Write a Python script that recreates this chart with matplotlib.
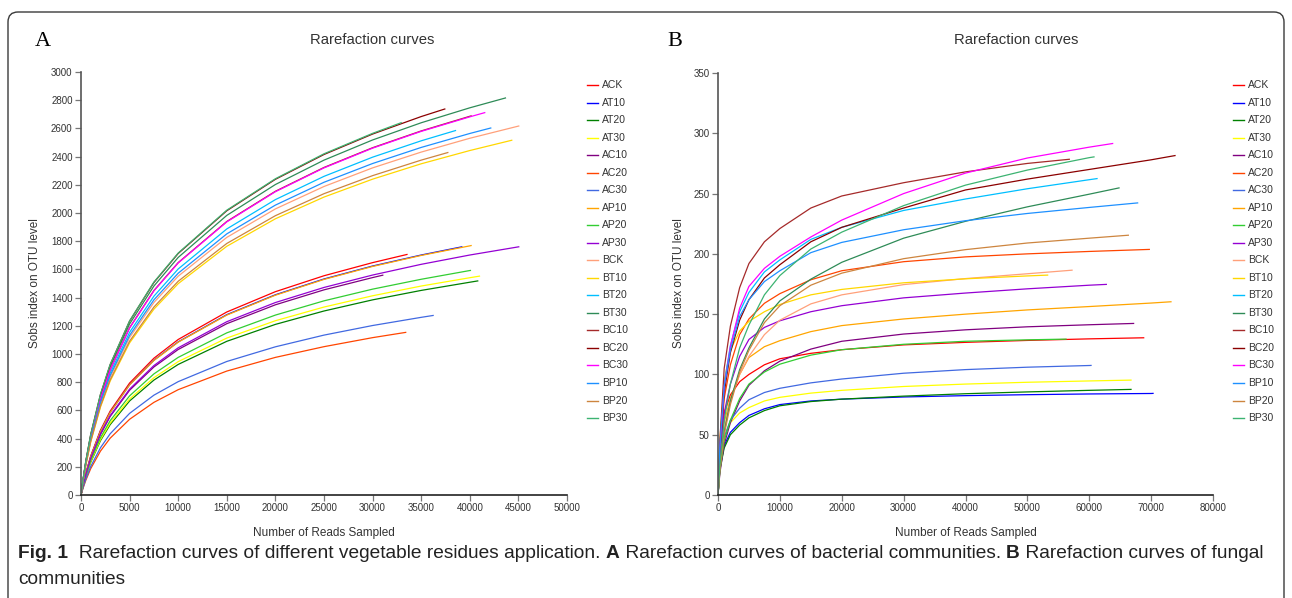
import matplotlib
matplotlib.use('Agg')
import matplotlib.pyplot as plt
from matplotlib.lines import Line2D
from matplotlib.patches import FancyBboxPatch

plt.rcParams['font.family'] = ['Liberation Sans', 'DejaVu Sans']

# samples and colours (same for both panels)
samples = ['ACK', 'AT10', 'AT20', 'AT30', 'AC10', 'AC20', 'AC30', 'AP10', 'AP20', 'AP30',
           'BCK', 'BT10', 'BT20', 'BT30', 'BC10', 'BC20', 'BC30', 'BP10', 'BP20', 'BP30']
colours = ['red', 'blue', 'green', 'yellow', 'purple', 'orangered', 'royalblue', 'orange',
           'limegreen', 'darkviolet', 'lightsalmon', 'gold', 'deepskyblue', 'seagreen',
           'brown', 'darkred', 'magenta', 'dodgerblue', 'peru', 'mediumseagreen']

# ---- A: bacteria ----
bact_reads = [0, 200, 500, 1000, 2000, 3000, 5000, 7500, 10000, 15000, 20000, 25000, 30000, 35000, 40000]
bact_max_reads = [33600, 39240, 40880, 41060, 31110, 33470, 36290, 40200, 40130, 45100,
                  45100, 44380, 38590, 43730, 40200, 37490, 41600, 42220, 37800, 33000]
bact_ACK = [0, 68, 156, 277, 459, 595, 794, 970, 1103, 1298, 1442, 1555, 1648, 1707]
bact_AT10 = [0, 67, 153, 272, 452, 586, 782, 956, 1086, 1279, 1420, 1532, 1624, 1702, 1761]
bact_AT20 = [0, 57, 131, 232, 385, 499, 667, 815, 926, 1090, 1210, 1305, 1384, 1451, 1509, 1519]
bact_AT30 = [0, 58, 134, 237, 393, 510, 681, 832, 946, 1113, 1236, 1333, 1413, 1482, 1541, 1553]
bact_AC10 = [0, 63, 146, 259, 429, 557, 743, 908, 1032, 1215, 1349, 1455, 1542, 1560]
bact_AC20 = [0, 46, 105, 187, 311, 403, 537, 657, 747, 879, 976, 1052, 1116, 1154]
bact_AC30 = [0, 49, 114, 202, 335, 434, 579, 708, 804, 947, 1051, 1134, 1202, 1260, 1274]
bact_AP10 = [0, 67, 153, 272, 451, 585, 781, 954, 1084, 1276, 1417, 1529, 1621, 1699, 1767, 1770]
bact_AP20 = [0, 60, 138, 245, 406, 527, 703, 859, 976, 1150, 1276, 1377, 1460, 1530, 1592, 1593]
bact_AP30 = [0, 64, 147, 262, 434, 563, 751, 918, 1044, 1229, 1365, 1472, 1560, 1636, 1702, 1761]
bact_BCK = [0, 95, 219, 389, 646, 837, 1117, 1365, 1552, 1827, 2029, 2188, 2320, 2432, 2530, 2618]
bact_BT10 = [0, 92, 212, 376, 623, 808, 1079, 1318, 1499, 1764, 1959, 2113, 2240, 2349, 2443, 2517]
bact_BT20 = [0, 99, 226, 402, 667, 865, 1154, 1410, 1603, 1887, 2095, 2260, 2396, 2512, 2586]
bact_BT30 = [0, 104, 238, 422, 701, 909, 1213, 1482, 1685, 1983, 2202, 2375, 2518, 2640, 2746, 2817]
bact_BC10 = [0, 101, 233, 413, 685, 889, 1186, 1450, 1648, 1940, 2154, 2323, 2463, 2582, 2686, 2690]
bact_BC20 = [0, 105, 242, 429, 712, 924, 1233, 1507, 1713, 2016, 2239, 2415, 2560, 2684, 2739]
bact_BC30 = [0, 101, 232, 413, 685, 888, 1185, 1448, 1646, 1937, 2151, 2320, 2460, 2579, 2682, 2713]
bact_BP10 = [0, 97, 222, 394, 654, 848, 1132, 1384, 1573, 1852, 2056, 2218, 2351, 2465, 2564, 2604]
bact_BP20 = [0, 93, 214, 380, 630, 817, 1091, 1333, 1516, 1784, 1981, 2137, 2265, 2375, 2430]
bact_BP30 = [0, 105, 242, 430, 714, 926, 1235, 1510, 1716, 2020, 2243, 2420, 2565, 2642]
bact_sobs = [bact_ACK, bact_AT10, bact_AT20, bact_AT30, bact_AC10, bact_AC20, bact_AC30,
             bact_AP10, bact_AP20, bact_AP30, bact_BCK, bact_BT10, bact_BT20, bact_BT30,
             bact_BC10, bact_BC20, bact_BC30, bact_BP10, bact_BP20, bact_BP30]

# ---- B: fungi ----
fung_reads = [0, 300, 1000, 2000, 3500, 5000, 7500, 10000, 15000, 20000, 30000, 40000, 50000, 60000, 70000]
fung_max_reads = [68900, 70410, 66850, 66850, 67270, 69810, 60390, 73310, 56350, 62860,
                  57320, 53380, 61360, 64910, 56880, 73960, 63880, 67920, 66420, 60870]
fung_ACK = [0, 32, 68, 83, 94, 100, 108, 113, 117.5, 120.5, 124.5, 126.6, 128.2, 129.5, 130.4]
fung_AT10 = [0, 22, 41, 52, 60, 66, 71.5, 75, 78, 79.5, 81.3, 82.4, 83.2, 83.8, 84.2, 84.3]
fung_AT20 = [0, 21, 39, 50, 58, 64, 70, 74, 77.5, 79.5, 82, 84, 85.5, 86.8, 87.6]
fung_AT30 = [0, 25, 49, 60, 68, 72.5, 78, 81, 84.5, 86.8, 90, 92, 93.5, 94.6, 95.3]
fung_AC10 = [0, 18, 42, 60, 78, 91, 103, 111, 121, 127.5, 133.5, 137, 139.5, 141.2, 142.3]
fung_AC20 = [0, 35, 80, 108, 133, 146, 159, 167, 178.5, 186, 193.5, 197.5, 200, 202, 203.7]
fung_AC30 = [0, 24, 48, 62, 72, 79, 85, 88.5, 93, 96.2, 101, 104, 106, 107.4, 107.5]
fung_AP10 = [0, 28, 60, 80, 100, 114, 123, 128, 135.5, 140.5, 146, 150, 153.5, 156.3, 159.2, 160.3]
fung_AP20 = [0, 20, 45, 62, 80, 92, 102, 108.5, 116, 120.5, 125, 127.5, 128.7, 129.3]
fung_AP30 = [0, 30, 68, 92, 115, 129, 139, 144.5, 152, 157, 163.5, 167.5, 171, 174, 174.7]
fung_BCK = [0, 24, 55, 78, 100, 115, 133, 145, 158.5, 166, 174.5, 179.5, 183.5, 186.5]
fung_BT10 = [0, 45, 95, 120, 136, 144, 152, 158, 166, 170.5, 176, 179.3, 181.7, 182.4]
fung_BT20 = [0, 40, 92, 124, 152, 168, 185, 195, 212, 222, 236, 245.5, 254, 261.5, 262.5]
fung_BT30 = [0, 22, 52, 78, 104, 122, 146, 161, 179, 193, 213, 227, 239, 249.5, 254.8]
fung_BC10 = [0, 45, 105, 140, 172, 192, 210, 221, 238, 248, 259, 268, 275, 278.5]
fung_BC20 = [0, 35, 85, 118, 145, 162, 180, 191, 210, 222, 238, 253, 262, 270, 278, 281.6]
fung_BC30 = [0, 38, 90, 123, 155, 173, 188, 198, 214, 228, 250, 267, 279.5, 288.5, 291.6]
fung_BP10 = [0, 40, 90, 120, 148, 162, 177, 186, 201, 209.5, 220, 227.5, 233.5, 238.5, 242.3]
fung_BP20 = [0, 20, 50, 75, 102, 120, 143, 157, 174, 184, 196, 203.5, 209, 213, 215.5]
fung_BP30 = [0, 25, 62, 92, 122, 141, 166, 182, 204, 218, 240, 257, 269.5, 279.8, 280.5]
fung_sobs = [fung_ACK, fung_AT10, fung_AT20, fung_AT30, fung_AC10, fung_AC20, fung_AC30,
             fung_AP10, fung_AP20, fung_AP30, fung_BCK, fung_BT10, fung_BT20, fung_BT30,
             fung_BC10, fung_BC20, fung_BC30, fung_BP10, fung_BP20, fung_BP30]

W, H = 1292, 598
fig = plt.figure(figsize=(W / 100, H / 100), dpi=100)

# rounded frame round the figure
frame = FancyBboxPatch((8, -40), 1276, 626, boxstyle='round,pad=0,rounding_size=10',
                       transform=None, fill=False, edgecolor='#3a3a3a', linewidth=1.0)
fig.patches.append(frame)


def px_ax(x0, y0, x1, y1):
    return fig.add_axes([x0 / W, 1 - y1 / H, (x1 - x0) / W, (y1 - y0) / H])


def draw_panel(ax, grid, max_reads, sobs, xmax, xstep, ymax, ystep):
    for name, col, end, ys in zip(samples, colours, max_reads, sobs):
        xs = [r for r in grid if r < end] + [end]
        ax.plot(xs, ys, color=col, lw=0.9, solid_capstyle='butt')
    ax.set_xlim(0, xmax)
    ax.set_ylim(0, ymax)
    ax.set_xticks(range(0, xmax + 1, xstep))
    ax.set_yticks(range(0, ymax + 1, ystep))
    for s in ['top', 'right']:
        ax.spines[s].set_visible(False)
    ax.spines['left'].set_color('#555555')
    ax.spines['bottom'].set_color('#222222')
    ax.spines['left'].set_linewidth(1.2)
    ax.spines['bottom'].set_linewidth(1.2)
    ax.tick_params(direction='out', length=4, width=0.9, color='#777777',
                   labelsize=7, labelcolor='#333333', pad=2)
    ax.set_xlabel('Number of Reads Sampled', fontsize=8.5, color='#333333', labelpad=10)


ax1 = px_ax(81, 72, 567, 495)
draw_panel(ax1, bact_reads, bact_max_reads, bact_sobs, 50000, 5000, 3000, 200)
ax2 = px_ax(718, 73, 1213, 495)
draw_panel(ax2, fung_reads, fung_max_reads, fung_sobs, 80000, 10000, 350, 50)

fig.text(35 / W, 1 - 283 / H, 'Sobs index on OTU level', rotation=90, fontsize=8.5,
         color='#333333', ha='center', va='center')
fig.text(679 / W, 1 - 283 / H, 'Sobs index on OTU level', rotation=90, fontsize=8.5,
         color='#333333', ha='center', va='center')

fig.text(372 / W, 1 - 40 / H, 'Rarefaction curves', fontsize=10.7, color='#333333',
         ha='center', va='center')
fig.text(1016 / W, 1 - 40 / H, 'Rarefaction curves', fontsize=10.7, color='#333333',
         ha='center', va='center')

fig.text(35 / W, 1 - 42 / H, 'A', fontsize=16, family='Liberation Serif', ha='left', va='center')
fig.text(667 / W, 1 - 42 / H, 'B', fontsize=16, family='Liberation Serif', ha='left', va='center')

# legends
for lx in [587, 1233]:
    for i, (name, col) in enumerate(zip(samples, colours)):
        y = 1 - (85 + i * 17.53) / H
        fig.add_artist(Line2D([lx / W, (lx + 11) / W], [y, y], color=col, lw=1.0))
        fig.text((lx + 15) / W, y, name, fontsize=7.5, color='#333333', ha='left', va='center')

# caption
cap_font = ['Liberation Sans Narrow', 'Liberation Sans']
pieces = [('Fig. 1', 'bold'),
          ('  Rarefaction curves of different vegetable residues application. ', 'normal'),
          ('A', 'bold'),
          (' Rarefaction curves of bacterial communities. ', 'normal'),
          ('B', 'bold'),
          (' Rarefaction curves of fungal', 'normal')]
renderer = fig.canvas.get_renderer()
size = 13
texts = []
x = 18
for txt, wt in pieces:
    t = fig.text(x / W, 1 - 553 / H, txt, fontsize=size, weight=wt, family=cap_font,
                 color='#222222', ha='left', va='center')
    texts.append(t)
    x += t.get_window_extent(renderer).width
scale = (1266 - 18) / (x - 18)
size = size * scale
x = 18
for t in texts:
    t.set_fontsize(size)
    t.set_x(x / W)
    x += t.get_window_extent(renderer).width
fig.text(18 / W, 1 - 580 / H, 'communities', fontsize=size, family=cap_font,
         color='#222222', ha='left', va='center')

fig.savefig('out.png', dpi=100)
